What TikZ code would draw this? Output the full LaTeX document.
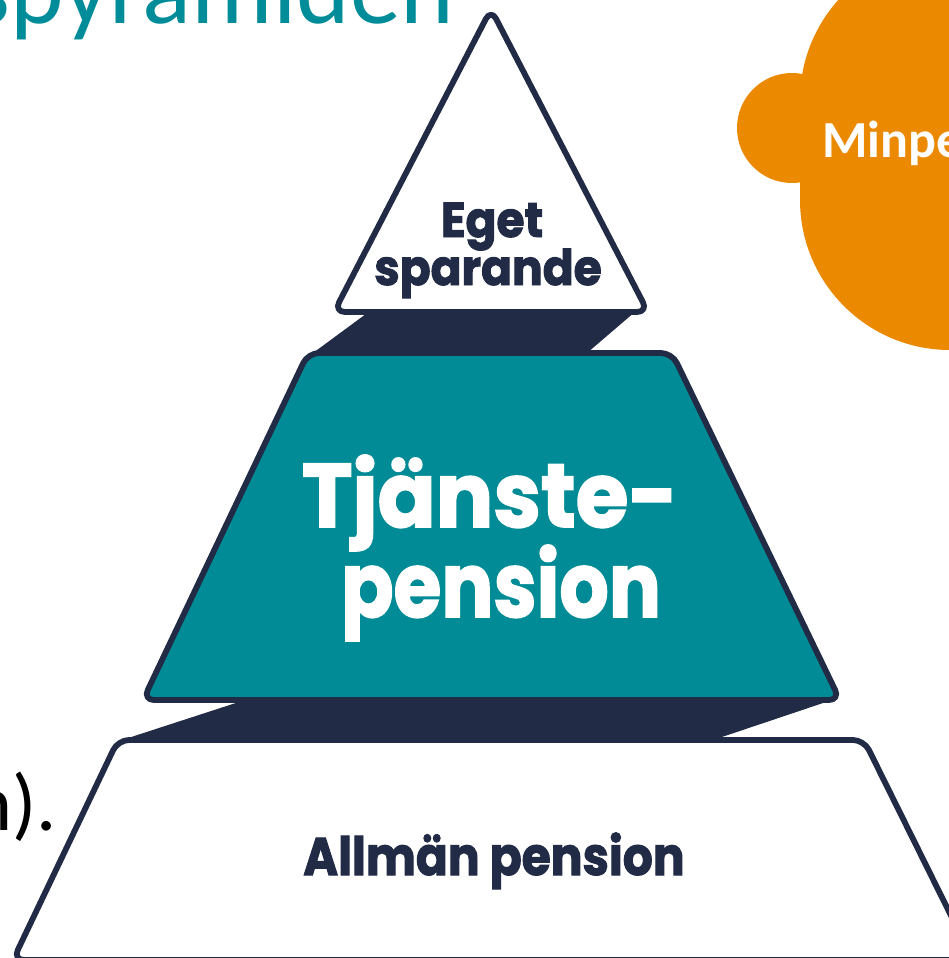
\documentclass[tikz,border=0pt]{standalone}
\usepackage{graphicx}
\usepackage{fontspec}
\newfontfamily\popfont{Poppins}[BoldFeatures={FakeBold=2}]
\newfontfamily\calfont{Carlito}
\definecolor{navy}{RGB}{34,43,70}
\definecolor{tealc}{RGB}{0,139,150}
\definecolor{headteal}{RGB}{0,140,152}
\definecolor{orangec}{RGB}{235,138,0}
\begin{document}
\begin{tikzpicture}[x=1pt,y=-1pt,
  outl/.style={draw=navy,line width=5.8pt,rounded corners=11pt,line join=round},
  lbl/.style={anchor=base,inner sep=0pt,font=\popfont\bfseries\fontsize{#1}{#1}\selectfont},
  cal/.style={inner sep=0pt,font=\calfont\fontsize{#1}{#1}\selectfont}]
\useasboundingbox (0,0) rectangle (949,958);
\clip (0,0) rectangle (949,958);
% heading and side text
\node[cal=102,anchor=base west,text=headteal] (head) at (-30,24) {spyramiden};
\node[cal=80,anchor=base east,text=black] (tail) at (57,830) {n).};
% orange blob
\fill[orangec, rounded corners=150pt] (800,-50) rectangle (1100,350);
\fill[orangec] (792,128) circle[radius=55];
\node[anchor=base west,inner sep=0pt,text=white,font=\calfont\bfseries\fontsize{52}{52}\selectfont] (minpe) at (822,157) {Minpe};
% dark bands
\fill[navy] (370,311) -- (636,311) -- (587,353) -- (313,353) -- cycle;
\fill[navy] (245,700) -- (832,700) -- (713,740) -- (122,740) -- cycle;
% tiers
\draw[outl, fill=white] (491,9) -- (648,312) -- (334,312) -- cycle;
\draw[outl, fill=tealc] (308,353) -- (672,353) -- (840,700) -- (143,700) -- cycle;
\draw[outl, fill=white] (118,740) -- (864,740) -- (973,960) -- (13,960) -- cycle;
% labels
\node[lbl=49,text=navy] (eget) at (492,237) {\scalebox{0.93}[1]{Eget}};
\node[lbl=49,text=navy] (sparande) at (488,285) {\scalebox{0.93}[1]{sparande}};
\node[lbl=90,text=white] (tj) at (490,527) {\scalebox{0.95}[1]{Tjänste-}};
\node[lbl=90,text=white] (pens) at (501,617) {\scalebox{0.86}[1]{pension}};
\node[lbl=53,text=navy] (allm) at (494,875) {\scalebox{0.89}[1]{Allmän pension}};
\end{tikzpicture}
\end{document}
